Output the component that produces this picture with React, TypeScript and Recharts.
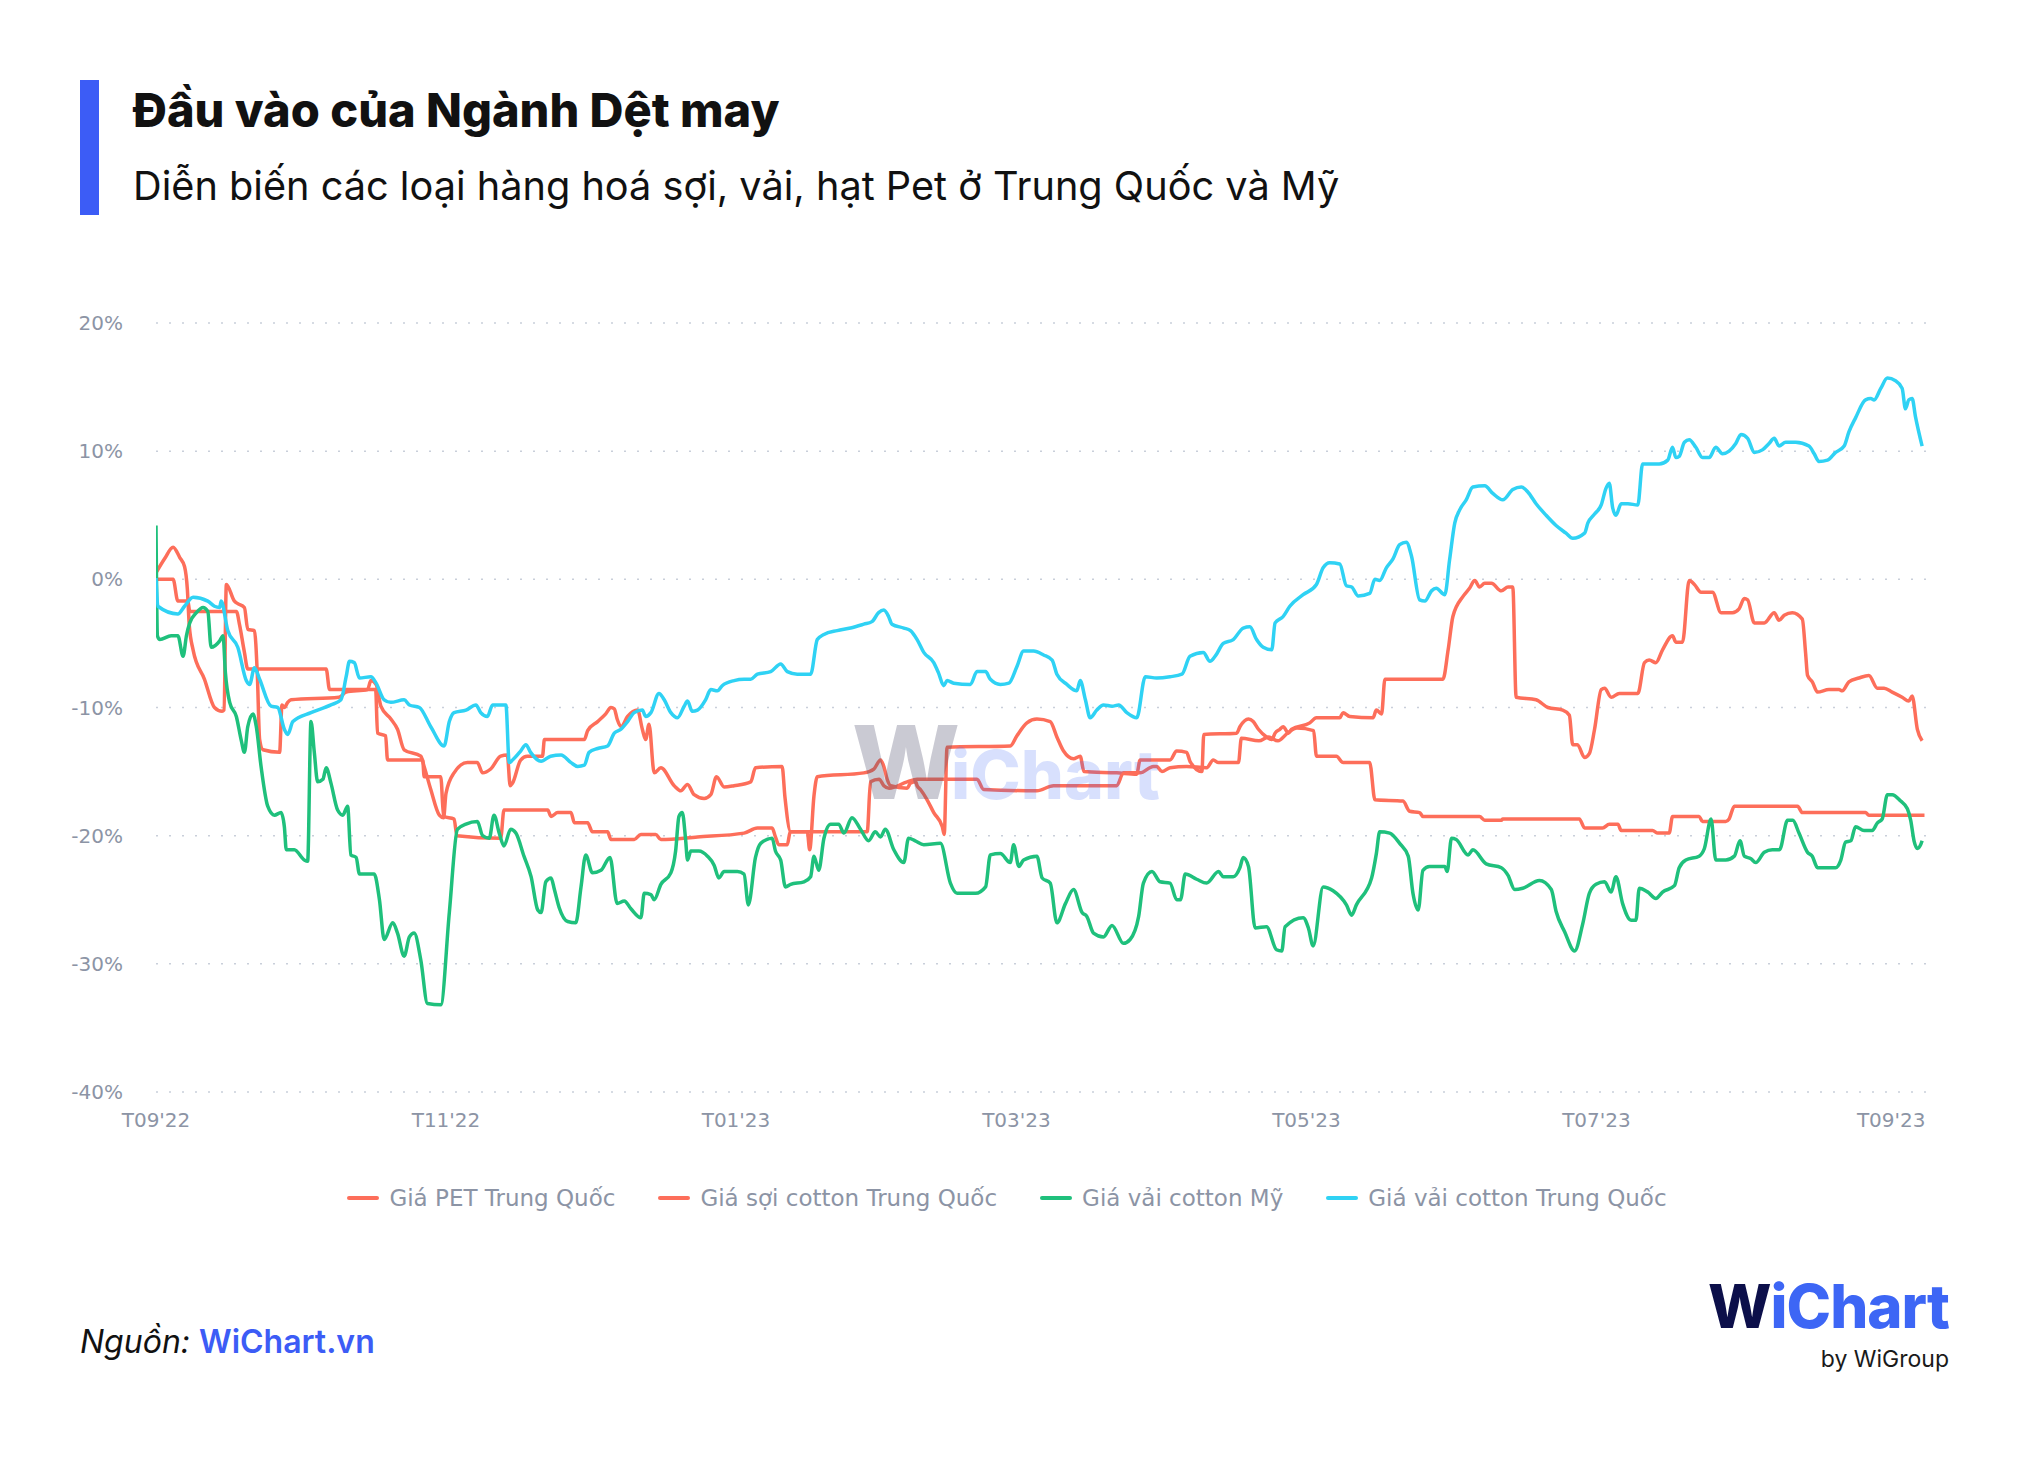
import React from 'react';
import { LineChart, Line, XAxis, YAxis, CartesianGrid, Legend } from 'recharts';

// [ngày tính từ 01/09/2022, % thay đổi so với đầu kỳ]
type Point = [number, number];

const xTicks = [0, 61, 122, 181, 242, 303, 365];
const xTickLabels = ["T09'22", "T11'22", "T01'23", "T03'23", "T05'23", "T07'23", "T09'23"];
const yTicks = [20, 10, 0, -10, -20, -30, -40];

const seriesNames = ['Giá PET Trung Quốc', 'Giá sợi cotton Trung Quốc', 'Giá vải cotton Mỹ', 'Giá vải cotton Trung Quốc'];
const seriesColors = ['#fd6e5a', '#fd6e5a', '#1fc07c', '#2fd2f4'];

const petTQ: Point[] = [
  [0, 0.5], [1.8, 1.6], [3.6, 2.5], [5, 1.7], [6, 1.0], [6.6, -0.8], [7, -3.6], [7.8, -5.5], [10.2, -7.8], [12.3, -10],
  [13.9, -10.3], [14.3, -10.2], [14.8, -0.4], [16.5, -1.7], [17.2, -1.9], [18.6, -2.2], [19.3, -3.9], [20.7, -4.0], [21.3, -7.3], [21.8, -12.5],
  [22.5, -13.3], [26, -13.5], [26.5, -9.8], [27, -10], [27.7, -9.6], [28.4, -9.4], [38.5, -9.2], [40, -8.8], [44.5, -8.6], [45.2, -7.9],
  [46.3, -8.2], [47.3, -9.9], [49.4, -10.9], [50.8, -11.7], [52.2, -13.3], [55.7, -13.8], [56.4, -14.6], [57.8, -16.4], [59.6, -18.4], [60.5, -18.6],
  [61, -16.7], [62.7, -15.1], [65.5, -14.3], [67.6, -14.3], [68.7, -15.1], [70.4, -14.8], [72.5, -13.8], [73.9, -13.7], [74.5, -16.1], [75, -15.9],
  [76.7, -14.1], [78.1, -13.8], [81.3, -13.8], [81.7, -12.5], [90.1, -12.5], [90.8, -11.8], [92.9, -11.1], [94.6, -10.5], [95.7, -10.0], [96.4, -10.1],
  [97, -10.9], [97.8, -11.5], [99.2, -10.7], [101.3, -10.2], [102.3, -11.7], [103, -12.5], [103.7, -11.3], [104.8, -15.1], [106.2, -14.7], [109, -16.1],
  [110.4, -16.5], [111.8, -16.0], [113.2, -16.8], [115.3, -17.1], [116.7, -16.8], [117.9, -15.4], [119.5, -16.2], [121.6, -16.1], [125.1, -15.8], [126.1, -14.7],
  [131.7, -14.6], [132.3, -17.0], [133.5, -19.7], [137, -19.7], [137.5, -21.1], [138.4, -16.9], [139.1, -15.4], [148.9, -15.1], [151, -14.8], [152.4, -14.1],
  [153.1, -14.6], [153.8, -15.6], [154.5, -16.1], [158, -16.3], [158.7, -15.9], [159.8, -15.8], [160.1, -16.1], [160.8, -16.4], [162.2, -17.2], [163.6, -18.2],
  [165.4, -19.3], [165.8, -19.9], [166.4, -13.1], [179.7, -13.0], [181.1, -12.2], [183.2, -11.2], [185.3, -10.9], [188.1, -11.1], [189.5, -12.3], [190.9, -13.4],
  [193, -14.0], [194.4, -13.8], [195.2, -15.0], [202.1, -15.1], [206.3, -15.2], [207, -14.1], [213.3, -14.1], [214.7, -13.4], [216.8, -13.5], [217.5, -14.2],
  [220, -15.0], [220.4, -12.1], [227.3, -12.0], [228, -11.5], [229.8, -10.9], [230.8, -11.1], [231.9, -11.7], [233.6, -12.3], [234.7, -12.5], [235.4, -12.0],
  [236.4, -11.7], [237.1, -11.5], [238.2, -12.0], [238.9, -11.7], [242.7, -11.2], [244.1, -10.8], [249, -10.8], [249.7, -10.4], [251.1, -10.7], [256, -10.8],
  [256.7, -10.2], [257.8, -10.5], [258.5, -7.8], [270.7, -7.8], [271.8, -5.5], [272.8, -2.9], [274.9, -1.35], [276.3, -0.7], [277.4, -0.1], [278.4, -0.6],
  [279.5, -0.3], [280.9, -0.3], [283, -0.9], [284.4, -0.6], [285.4, -0.6], [286.1, -9.2], [290.3, -9.4], [292.8, -10.0], [295.9, -10.2], [297.3, -10.6],
  [298, -12.9], [299, -12.9], [300.5, -13.9], [301.5, -13.6], [302.6, -11.7], [304, -8.6], [304.7, -8.5], [306.1, -9.2], [307.8, -8.9], [311.7, -8.9],
  [313.1, -6.5], [314.1, -6.3], [315.5, -6.5], [316.9, -5.5], [319, -4.4], [319.7, -4.9], [321.1, -4.9], [322.5, -0.1], [323.6, -0.4], [325, -1.0],
  [327.4, -1.0], [329.2, -2.6], [331.6, -2.6], [333, -2.3], [334.1, -1.5], [334.8, -1.6], [336.2, -3.4], [338.3, -3.4], [340.4, -2.6], [341.4, -3.2],
  [342.5, -2.8], [344.2, -2.6], [346.3, -3.1], [347, -5.8], [347.4, -7.5], [348.4, -8.0], [349.5, -8.8], [351.9, -8.6], [354, -8.6], [354.7, -8.7],
  [356.1, -8.0], [358.2, -7.7], [360.3, -7.5], [362.1, -8.5], [363.5, -8.5], [365.2, -8.8], [367.3, -9.2], [368.7, -9.5], [369.4, -9.1], [370.5, -11.7],
  [371.5, -12.6],
];

const soiCottonTQ: Point[] = [
  [0, 0], [3.6, 0], [4.6, -1.7], [6.7, -1.7], [7.1, -2.5], [16.9, -2.5], [17.6, -3.6], [18.6, -5.7], [19.3, -7.0], [35.8, -7.0],
  [36.5, -8.6], [46.2, -8.6], [46.6, -12.0], [48.3, -12.2], [48.7, -14.1], [56.1, -14.1], [56.4, -15.4], [59.9, -15.4], [60.5, -18.5], [62.7, -18.7],
  [63.3, -20.0], [72.5, -20.2], [73.2, -18.0], [82.4, -18.0], [83.1, -18.5], [84.5, -18.2], [87.3, -18.2], [88, -19.0], [90.8, -19.0], [91.8, -19.7],
  [95, -19.7], [95.7, -20.3], [100.6, -20.3], [102, -19.9], [105.1, -19.9], [106.2, -20.3], [113.9, -20.1], [123.7, -19.8], [126.5, -19.4], [129.6, -19.4],
  [130.3, -20.1], [131, -20.7], [132.8, -20.7], [133.4, -19.7], [149.6, -19.7], [150.3, -15.8], [152.1, -15.6], [153.1, -16.1], [154.2, -16.3], [158, -15.8],
  [160.1, -15.6], [172.7, -15.6], [174.1, -16.4], [185.3, -16.5], [188.8, -16.1], [202.1, -16.1], [203.5, -15.1], [207, -15.1], [209.8, -14.6], [210.5, -14.6],
  [211.6, -15.0], [213.3, -14.7], [216.8, -14.6], [221, -14.7], [222.4, -14.1], [223.5, -14.3], [227.7, -14.3], [228.3, -12.4], [232, -12.6], [234, -12.3],
  [236, -12.6], [238, -12.0], [240, -11.6], [243.5, -11.8], [244.1, -13.8], [248.3, -13.8], [249.7, -14.3], [255.3, -14.3], [256.4, -17.2], [262.3, -17.3],
  [263.7, -18.1], [265.8, -18.2], [266.5, -18.5], [278.4, -18.5], [279.5, -18.8], [283, -18.8], [283.3, -18.7], [299.4, -18.7], [300.5, -19.4], [304.3, -19.4],
  [305.7, -19.1], [307.5, -19.1], [308.2, -19.6], [314.8, -19.6], [315.9, -19.8], [318.3, -19.8], [319, -18.5], [324.6, -18.5], [325.3, -18.9], [330.2, -18.9],
  [330.9, -18.7], [332, -17.7], [345.3, -17.7], [346.3, -18.2], [359.6, -18.2], [360.3, -18.4], [372, -18.4],
];

const vaiCottonMy: Point[] = [
  [0, 4.2], [0.3, -4.4], [0.8, -4.7], [3.2, -4.4], [4.6, -4.4], [5.7, -6.0], [6.4, -4.4], [7.1, -3.4], [8.5, -2.6], [9.9, -2.2],
  [10.9, -2.5], [11.6, -5.3], [13.4, -4.8], [14.1, -4.4], [14.6, -7.3], [15.5, -9.6], [16.9, -10.7], [17.9, -12.5], [18.6, -13.5], [19.3, -11.5],
  [20.4, -10.5], [21.1, -11.5], [22.1, -14.6], [23.5, -17.7], [24.9, -18.4], [26.3, -18.2], [27, -19.3], [27.4, -21.1], [29.1, -21.1], [31.2, -21.9],
  [31.9, -22.0], [32.6, -11.1], [33.3, -13.5], [34, -15.8], [35.1, -15.6], [35.8, -14.7], [36.8, -15.9], [38.2, -18.0], [39.3, -18.4], [40.3, -17.7],
  [41, -21.5], [42.1, -21.7], [42.8, -23.0], [45.9, -23.0], [47, -25.0], [48, -28.1], [49.8, -26.8], [50.8, -27.6], [52.2, -29.4], [53.3, -27.9],
  [54.3, -27.6], [55.7, -29.7], [57.1, -33.1], [59.9, -33.2], [61.7, -26.0], [63.4, -19.5], [65.2, -19.1], [67.6, -18.9], [68.7, -20.0], [70.1, -20.2],
  [71.1, -18.4], [72.2, -19.8], [73.2, -20.8], [74.6, -19.5], [75.7, -19.8], [77.4, -21.6], [78.9, -23.2], [80.3, -25.8], [81, -26.0], [82, -23.6],
  [83.1, -23.3], [83.8, -24.2], [84.8, -25.6], [86.6, -26.7], [88.3, -26.8], [89.4, -24.0], [90.4, -21.5], [91.8, -22.9], [93.6, -22.7], [95.5, -21.7],
  [97, -25.3], [98.5, -25.1], [99.9, -25.7], [102, -26.4], [102.7, -24.5], [104.1, -24.6], [104.8, -25.0], [106.2, -23.8], [108.3, -22.9], [109.3, -21.2],
  [110, -18.5], [110.7, -18.2], [111.4, -20.3], [111.8, -21.9], [112.5, -21.2], [114.2, -21.2], [116, -21.6], [117.4, -22.3], [118.4, -23.3], [119.5, -22.8],
  [122.3, -22.8], [123.7, -23.0], [124.6, -25.4], [126.1, -21.7], [127.2, -20.6], [129.6, -20.2], [130.3, -21.2], [131.4, -21.9], [132.4, -24.0], [133.5, -23.8],
  [136.3, -23.6], [137.7, -23.2], [138.4, -21.6], [139.4, -22.7], [140.5, -20.2], [141.9, -19.1], [143.6, -19.1], [144.7, -19.8], [146.4, -18.6], [148.2, -19.5],
  [149.9, -20.4], [151.3, -19.7], [152.4, -20.1], [153.4, -19.5], [155.2, -21.1], [157.3, -22.1], [158.3, -20.2], [159.7, -20.4], [161.5, -20.7], [165, -20.6],
  [167.1, -23.7], [168.5, -24.5], [172.4, -24.5], [174.5, -24.0], [175.5, -21.5], [177.6, -21.4], [179.7, -22.1], [180.4, -20.7], [181.5, -22.4], [182.5, -21.9],
  [185.3, -21.6], [186.4, -23.3], [188.1, -23.7], [189.5, -26.8], [191.3, -25.3], [193, -24.2], [194.8, -26.0], [195.8, -26.3], [197.2, -27.6], [199.3, -27.9],
  [201.1, -27.0], [203.5, -28.4], [204.9, -28.1], [206.7, -26.3], [207.7, -23.7], [209.5, -22.8], [211.2, -23.6], [213.3, -23.7], [214.7, -25.0], [215.5, -25.0],
  [216.5, -23.0], [218.9, -23.4], [221, -23.7], [223.5, -22.8], [224.5, -23.2], [226.6, -23.2], [228, -22.5], [228.7, -21.7], [229.8, -22.4], [231.2, -27.2],
  [233.6, -27.1], [235.7, -28.9], [236.8, -29.0], [237.5, -27.1], [241.3, -26.4], [242.4, -27.2], [243.4, -28.6], [245.5, -24.0], [247.6, -24.3], [250.4, -25.4],
  [251.5, -26.2], [252.5, -25.4], [255.7, -23.3], [256.7, -21.4], [257.4, -19.7], [259.5, -19.8], [261.6, -20.6], [263.4, -21.6], [264.4, -24.5], [265.5, -25.8],
  [266.5, -22.7], [267.9, -22.4], [271.1, -22.4], [271.6, -22.8], [272.5, -20.2], [273.5, -20.3], [276, -21.5], [277, -21.1], [279.8, -22.2], [283, -22.5],
  [284.4, -23.1], [285.8, -24.2], [287.5, -24.1], [291, -23.5], [293.5, -24.2], [294.5, -25.9], [296.3, -27.5], [298.4, -29.0], [300.1, -26.9], [301.5, -24.5],
  [302.9, -23.8], [304.7, -23.6], [306.1, -24.4], [307.1, -23.2], [308.5, -25.3], [310.3, -26.6], [311.3, -26.6], [312, -24.1], [313.8, -24.4], [315.5, -24.9],
  [316.9, -24.4], [319.4, -23.9], [320.4, -22.5], [321.8, -21.9], [324.6, -21.6], [325.7, -21.0], [327.1, -18.7], [328.1, -21.9], [330.2, -21.9], [332, -21.6],
  [333.2, -20.4], [334.1, -21.6], [335.5, -21.8], [336.5, -22.1], [338.3, -21.3], [340, -21.1], [341.5, -21.1], [343.2, -18.8], [344.3, -18.8], [345.6, -19.8],
  [347.4, -21.3], [348.4, -21.6], [349.5, -22.5], [353.3, -22.5], [354.4, -21.9], [355.4, -20.5], [356.5, -20.4], [357.5, -19.3], [359.3, -19.6], [361, -19.6],
  [362.1, -19.0], [363.1, -18.7], [364.2, -16.8], [365.2, -16.8], [367, -17.3], [368.4, -17.9], [369.1, -18.8], [369.8, -20.4], [370.5, -21.0], [371.2, -20.7],
  [371.5, -20.4],
];

const vaiCottonTQ: Point[] = [
  [0, 0.1], [0.4, -2.1], [4.6, -2.7], [6, -2.1], [7.8, -1.4], [10.9, -1.7], [12.3, -2.1], [13.4, -2.2], [13.7, -1.7], [15.1, -4.0],
  [17.2, -5.3], [19, -7.9], [19.7, -8.2], [20.7, -6.9], [21.8, -7.8], [24.2, -9.9], [25.6, -10.0], [27, -11.7], [27.7, -12.1], [28.8, -11.1],
  [32.6, -10.4], [36.8, -9.8], [38.9, -9.4], [40, -7.6], [40.7, -6.4], [41.7, -6.5], [42.8, -7.7], [45.2, -7.6], [46.3, -8.1], [48, -9.4],
  [49.4, -9.6], [52.2, -9.4], [53.3, -9.8], [55.4, -10.0], [57.8, -11.5], [60.6, -13.0], [61.7, -11.1], [62.7, -10.4], [65.2, -10.2], [67.3, -9.8],
  [68.3, -10.4], [69.7, -10.7], [70.8, -9.8], [73.6, -9.8], [74.3, -14.3], [75, -14.1], [76.7, -13.4], [77.8, -12.9], [78.8, -13.5], [81, -14.2],
  [83, -13.8], [85.2, -13.7], [87.3, -14.3], [88.7, -14.6], [90.1, -14.5], [91.1, -13.5], [92.9, -13.2], [95, -13.0], [96.4, -12.0], [97.8, -11.7],
  [99.2, -11.1], [100.6, -10.4], [102.3, -10.2], [103, -10.7], [104.1, -10.4], [105.8, -8.9], [106.9, -9.4], [108.3, -10.4], [109.7, -10.8], [111.1, -9.9],
  [111.8, -9.5], [112.8, -10.3], [113.9, -10.2], [115.6, -9.4], [116.7, -8.6], [118.1, -8.7], [119.1, -8.3], [121.6, -7.9], [123.7, -7.8], [125.1, -7.8],
  [126.5, -7.4], [129.3, -7.2], [131.4, -6.6], [132.8, -7.2], [134.9, -7.4], [137.7, -7.4], [139.1, -4.7], [140.5, -4.3], [143.3, -4.0], [146.1, -3.8],
  [148.9, -3.5], [150.6, -3.3], [152, -2.6], [153.1, -2.4], [154.1, -2.9], [154.8, -3.5], [157.3, -3.8], [158.7, -4.0], [160.1, -4.7], [161.5, -5.7],
  [163.6, -6.5], [164.6, -7.3], [165.7, -8.3], [166.4, -7.9], [167.8, -8.1], [171.3, -8.2], [172.7, -7.2], [174.5, -7.2], [175.5, -7.8], [177.6, -8.2],
  [179.4, -8.1], [181.1, -6.8], [182.5, -5.6], [184.6, -5.6], [186.7, -5.9], [188.5, -6.3], [189.5, -7.4], [191.6, -8.2], [193.7, -8.7], [194.4, -7.9],
  [195.5, -9.4], [196.5, -10.8], [197.9, -10.2], [199.3, -9.8], [201.1, -9.9], [202.5, -9.8], [204.2, -10.4], [206.3, -10.8], [208.1, -7.6], [210.5, -7.7],
  [213.3, -7.6], [215.8, -7.4], [217.5, -6.0], [220.3, -5.7], [221.7, -6.4], [222.8, -6.0], [224.5, -5.0], [226.6, -4.7], [228.7, -3.8], [230.1, -3.7],
  [231.5, -4.7], [232.9, -5.3], [234.7, -5.5], [235.4, -3.4], [237.1, -2.9], [238.5, -2.1], [241.3, -1.2], [244.1, -0.4], [245.5, 0.9], [246.9, 1.3],
  [249, 1.2], [250.4, -0.5], [251.5, -0.6], [252.9, -1.3], [255.3, -1.1], [256.4, 0.0], [257.4, -0.1], [258.8, 0.9], [260.2, 1.6], [261.6, 2.7],
  [263, 2.9], [264.1, 1.8], [265.8, -1.6], [266.9, -1.7], [268.3, -0.9], [269.3, -0.7], [271.1, -1.2], [272.1, 1.5], [273.2, 4.4], [274.2, 5.4],
  [275.6, 6.2], [277, 7.2], [279.5, 7.3], [281.2, 6.7], [283.3, 6.2], [285.4, 7.0], [287.2, 7.2], [288.6, 6.8], [290.3, 5.9], [292.4, 5.0],
  [294.5, 4.2], [296.6, 3.6], [298, 3.2], [300.5, 3.6], [301.2, 4.4], [302.6, 5.1], [304, 5.8], [305, 7.1], [305.7, 7.5], [306.4, 5.6],
  [307.1, 5.0], [308.2, 5.9], [309.6, 5.9], [311.7, 5.8], [312.7, 9.0], [316.2, 9.0], [318, 9.3], [319, 10.3], [319.7, 9.5], [320.4, 9.6],
  [321.5, 10.7], [322.5, 10.9], [323.9, 10.3], [325.3, 9.5], [326.7, 9.5], [328.1, 10.3], [329.5, 9.8], [330.9, 10.0], [332.3, 10.6], [333.4, 11.3],
  [334.8, 11.0], [336.2, 9.9], [337.9, 10.1], [339.3, 10.6], [340.4, 11.0], [341.4, 10.4], [342.8, 10.7], [344.9, 10.7], [347.7, 10.4], [348.8, 9.8],
  [349.8, 9.2], [351.6, 9.3], [353.3, 9.9], [355.1, 10.4], [356.1, 11.5], [357.5, 12.6], [359.6, 14.0], [360.7, 14.1], [361.4, 14.0], [362.8, 14.9],
  [364.2, 15.7], [365.9, 15.5], [367.3, 14.9], [368, 13.3], [368.7, 14.0], [369.4, 14.1], [370.1, 12.7], [371.5, 10.4],
];

const allSeries = [petTQ, soiCottonTQ, vaiCottonMy, vaiCottonTQ];

// đổi cặp [ngày, giá trị] sang dạng bản ghi cho Recharts
const toRows = (pts: Point[]) => pts.map(([day, value]) => ({ day, value }));

const tickStyle = { fill: '#8c94a5', fontSize: 20, fontFamily: 'DejaVu Sans' };

const renderLegend = (props: any) => {
  const payload = props.payload || [];
  return (
    <div style={{ display: 'flex', justifyContent: 'center', alignItems: 'center', height: 40, margin: 0 }}>
      {payload.map((entry: any, i: number) => (
        <div key={entry.value} style={{ display: 'flex', alignItems: 'center', marginRight: i < payload.length - 1 ? 43 : 0 }}>
          <span style={{ display: 'inline-block', width: 32, height: 4, borderRadius: 2, background: entry.color, marginRight: 10 }} />
          <span style={{ fontFamily: 'DejaVu Sans', fontSize: 23, color: '#8c94a5' }}>{entry.value}</span>
        </div>
      ))}
    </div>
  );
};

const App: React.FC = () => {
  return (
    <div style={{ position: 'absolute', left: 0, top: 0, width: 2028, height: 1460, background: '#fff', overflow: 'hidden', fontFamily: 'Inter, sans-serif' }}>
      {/* tiêu đề */}
      <div style={{ position: 'absolute', left: 80, top: 80, width: 19, height: 135, background: '#3c5cf6' }} />
      <div style={{ position: 'absolute', left: 133, top: 82, fontSize: 47, fontWeight: 800, lineHeight: '55px', color: '#111' }}>
        Đầu vào của Ngành Dệt may
      </div>
      <div style={{ position: 'absolute', left: 133, top: 163, fontSize: 39.7, fontWeight: 400, lineHeight: '46px', color: '#111' }}>
        Diễn biến các loại hàng hoá sợi, vải, hạt Pet ở Trung Quốc và Mỹ
      </div>

      {/* biểu đồ */}
      <div style={{ position: 'absolute', left: 60, top: 280 }}>
        <LineChart width={1890} height={998} margin={{ top: 43, right: 16, bottom: 60, left: 20 }}>
          <CartesianGrid vertical={false} stroke="#c9cfda" strokeDasharray="2 11" strokeWidth={1.5} />
          <XAxis
            type="number"
            dataKey="day"
            domain={[0, 374]}
            ticks={xTicks}
            interval={0}
            height={86}
            axisLine={false}
            tickLine={false}
            tickSize={0}
            tickMargin={21}
            tick={tickStyle}
            allowDataOverflow
            tickFormatter={(d: number) => xTickLabels[xTicks.indexOf(d)] ?? ''}
          />
          <YAxis
            type="number"
            domain={[-40, 20]}
            ticks={yTicks}
            interval={0}
            width={76}
            axisLine={false}
            tickLine={false}
            tickSize={0}
            tickMargin={33}
            tick={tickStyle}
            tickFormatter={(v: number) => `${v}%`}
          />
          <Legend verticalAlign="bottom" content={renderLegend} />
          {allSeries.map((pts, i) => (
            <Line
              key={seriesNames[i]}
              data={toRows(pts)}
              dataKey="value"
              name={seriesNames[i]}
              type="monotone"
              stroke={seriesColors[i]}
              strokeWidth={3.5}
              dot={false}
              activeDot={false}
              isAnimationActive={false}
            />
          ))}
        </LineChart>
      </div>

      {/* logo chìm giữa biểu đồ */}
      <div style={{ position: 'absolute', left: 852, top: 711, display: 'flex', alignItems: 'baseline', pointerEvents: 'none', fontWeight: 800, lineHeight: 1 }}>
        <span style={{ fontSize: 102, color: 'rgba(80,80,110,0.3)', letterSpacing: -9 }}>W</span>
        <span style={{ fontSize: 68, color: 'rgba(62,102,246,0.2)' }}>iChart</span>
      </div>

      {/* nguồn */}
      <div style={{ position: 'absolute', left: 80, top: 1322, fontSize: 32, lineHeight: '40px' }}>
        <span style={{ fontStyle: 'italic', color: '#111' }}>Nguồn: </span>
        <span style={{ color: '#3c5cf6', fontWeight: 600 }}>WiChart.vn</span>
      </div>

      {/* logo góc phải */}
      <div style={{ position: 'absolute', right: 79, top: 1276, fontSize: 60, fontWeight: 800, lineHeight: '60px', letterSpacing: -1 }}>
        <span style={{ color: '#0c0f4a' }}>W</span>
        <span style={{ color: '#3d66f5' }}>iChart</span>
      </div>
      <div style={{ position: 'absolute', right: 79, top: 1348, fontSize: 23, lineHeight: '23px', color: '#1a1a1a' }}>
        by WiGroup
      </div>
    </div>
  );
};

export default App;
